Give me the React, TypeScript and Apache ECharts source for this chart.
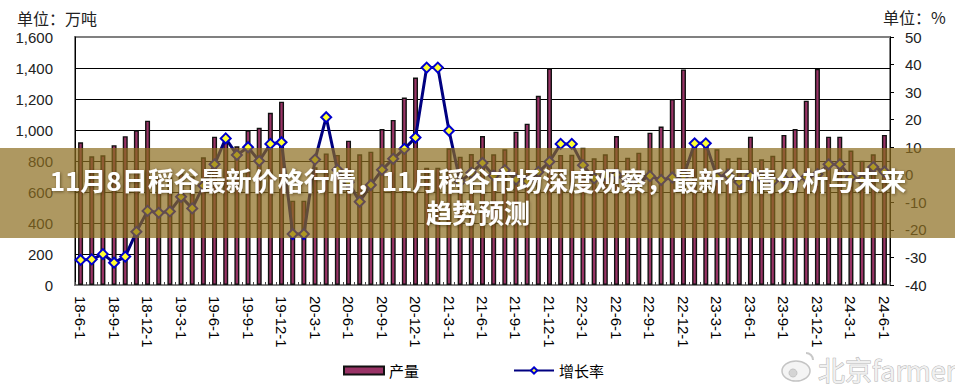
import React, { useEffect, useRef } from "react";
import * as echarts from "echarts";

// Monthly categories 2018-06 .. 2024-06
const categories: string[] = [
  "18-6-1","18-7-1","18-8-1","18-9-1","18-10-1","18-11-1","18-12-1",
  "19-1-1","19-2-1","19-3-1","19-4-1","19-5-1","19-6-1","19-7-1","19-8-1","19-9-1","19-10-1","19-11-1","19-12-1",
  "20-1-1","20-2-1","20-3-1","20-4-1","20-5-1","20-6-1","20-7-1","20-8-1","20-9-1","20-10-1","20-11-1","20-12-1",
  "21-1-1","21-2-1","21-3-1","21-4-1","21-5-1","21-6-1","21-7-1","21-8-1","21-9-1","21-10-1","21-11-1","21-12-1",
  "22-1-1","22-2-1","22-3-1","22-4-1","22-5-1","22-6-1","22-7-1","22-8-1","22-9-1","22-10-1","22-11-1","22-12-1",
  "23-1-1","23-2-1","23-3-1","23-4-1","23-5-1","23-6-1","23-7-1","23-8-1","23-9-1","23-10-1","23-11-1","23-12-1",
  "24-1-1","24-2-1","24-3-1","24-4-1","24-5-1","24-6-1",
];

// 产量 (万吨)
const output: number[] = [
  921, 830, 837, 902, 960, 997, 1060,
  693, 693, 720, 702, 824, 957, 935, 895, 997, 1014, 1111, 1183,
  544, 544, 760, 849, 839, 931, 843, 860, 1006, 1065, 1209, 1338,
  756, 756, 882, 828, 845, 961, 843, 875, 989, 1041, 1221, 1398,
  839, 840, 885, 817, 843, 961, 821, 854, 983, 1022, 1200, 1391,
  928, 928, 875, 817, 821, 957, 811, 834, 968, 1006, 1189, 1394,
  957, 957, 867, 802, 843, 968,
];

// 增长率 (%)
const growth: number[] = [
  -30.9, -30.7, -28.8, -31.9, -29.7, -20.7, -13.1,
  -13.8, -13.3, -8.0, -12.2, -4.0, 3.8, 13.2, 7.2, 10.0, 5.0, 11.2, 11.8,
  -21.5, -21.5, 5.5, 20.9, 1.8, -2.7, -9.8, -3.7, 1.8, 5.8, 9.4, 13.5,
  38.9, 38.9, 16.0, -2.5, 0.7, 4.3, -0.3, 1.7, -1.7, -2.3, 1.0, 4.7,
  11.2, 11.2, 3.5, -1.3, -0.2, 0.0, -2.6, -2.4, -0.5, -1.9, -1.0, -0.5,
  11.4, 11.4, -0.8, 0.0, -2.6, -0.4, -1.2, -2.3, -1.5, -1.6, -0.9, 0.2,
  3.8, 3.8, -0.9, -1.8, 2.8, 1.1,
];

const leftUnit = "单位：万吨";
const rightUnit = "单位：%";
const seriesNames = ["产量", "增长率"];
const headline = "11月8日稻谷最新价格行情，11月稻谷市场深度观察，最新行情分析与未来\n趋势预测";
const watermark = "北京farmer";

const LATIN = "'Liberation Sans', Arial, sans-serif";
const CJK = "'Noto Sans CJK SC', 'Liberation Sans', sans-serif";

export default function App() {
  const ref = useRef<HTMLDivElement>(null);

  useEffect(() => {
    if (!ref.current) return;
    const chart = echarts.init(ref.current, null, { renderer: "svg" });
    const option: any = {
      animation: false,
      backgroundColor: "#ffffff",
      grid: {
        left: 75,
        right: 65,
        top: 37,
        bottom: 104,
        show: true,
        borderColor: "#808080",
        borderWidth: 2,
        backgroundColor: "transparent",
      },
      legend: {
        left: 343,
        top: 363,
        padding: 0,
        itemWidth: 40,
        itemHeight: 8,
        itemGap: 94,
        textStyle: { fontFamily: CJK, fontSize: 15, color: "#000" },
        data: [
          { name: seriesNames[0], icon: "rect" },
          { name: seriesNames[1] },
        ],
      },
      xAxis: {
        type: "category",
        data: categories,
        boundaryGap: true,
        axisLine: { show: true, lineStyle: { color: "#808080", width: 1 } },
        axisTick: {
          show: true,
          inside: true,
          length: 3,
          interval: 0,
          lineStyle: { color: "#444" },
        },
        axisLabel: {
          interval: 2,
          rotate: -90,
          margin: 11,
          color: "#000",
          fontFamily: LATIN,
          fontSize: 15,
        },
        splitLine: { show: false },
      },
      yAxis: [
        {
          type: "value",
          min: 0,
          max: 1600,
          interval: 200,
          axisLine: { show: true, lineStyle: { color: "#000", width: 1 } },
          axisTick: { show: false },
          axisLabel: {
            margin: 22,
            color: "#222",
            fontFamily: LATIN,
            fontSize: 15,
            formatter: (v: number) => v.toLocaleString("en-US"),
          },
          splitLine: {
            show: true,
            lineStyle: {
              color: ["#808080", "#000", "#000", "#000", "#000", "#000", "#000", "#000", "#808080"],
              width: 1.2,
            },
          },
        },
        {
          type: "value",
          min: -40,
          max: 50,
          interval: 10,
          position: "right",
          axisLine: { show: true, lineStyle: { color: "#000", width: 1 } },
          axisTick: { show: true, length: 4, lineStyle: { color: "#000" } },
          axisLabel: {
            margin: 15,
            color: "#222",
            fontFamily: LATIN,
            fontSize: 15,
          },
          splitLine: { show: false },
        },
      ],
      series: [
        {
          name: seriesNames[0],
          type: "bar",
          yAxisIndex: 0,
          data: output,
          barWidth: 5,
          itemStyle: { color: "#993366", borderColor: "#111", borderWidth: 1.4 },
          z: 2,
        },
        {
          name: seriesNames[1],
          type: "line",
          yAxisIndex: 1,
          data: growth,
          symbol: "diamond",
          symbolSize: 10,
          showAllSymbol: true,
          lineStyle: { color: "#000080", width: 3 },
          itemStyle: { color: "#ffff33", borderColor: "#0000cc", borderWidth: 2 },
          z: 3,
        },
      ],
      graphic: [
        {
          type: "text",
          x: 17,
          y: 18,
          style: {
            text: leftUnit,
            fill: "#222",
            fontFamily: CJK,
            fontSize: 16,
            verticalAlign: "middle",
          },
        },
        {
          type: "text",
          x: 883,
          y: 17,
          style: {
            text: rightUnit,
            fill: "#222",
            fontFamily: CJK,
            fontSize: 16,
            verticalAlign: "middle",
          },
        },
        {
          type: "rect",
          z: 100,
          shape: { x: 0, y: 148, width: 955, height: 90 },
          style: { fill: "rgba(140,108,30,0.7)" },
        },
        {
          type: "text",
          z: 101,
          x: 478,
          y: 195,
          style: {
            text: headline,
            fill: "#ffffff",
            fontFamily: CJK,
            fontSize: 26,
            fontWeight: "bold",
            lineHeight: 32,
            align: "center",
            verticalAlign: "middle",
            textShadowColor: "rgba(50,30,0,0.55)",
            textShadowBlur: 3,
            textShadowOffsetX: 1,
            textShadowOffsetY: 1,
          },
        },
        {
          type: "group",
          z: 102,
          children: [
            {
              type: "ellipse",
              shape: { cx: 796, cy: 371, rx: 14, ry: 10 },
              style: { fill: "#f4f4f4", stroke: "#c4c4c4", lineWidth: 1.5 },
            },
            {
              type: "circle",
              shape: { cx: 793, cy: 373, r: 4 },
              style: { fill: "#d4d4d4", stroke: "#c4c4c4", lineWidth: 1 },
            },
            {
              type: "arc",
              shape: { cx: 806, cy: 360, r: 7, startAngle: -Math.PI / 2, endAngle: 0 },
              style: { stroke: "#c8c8c8", lineWidth: 2, fill: "none" },
            },
            {
              type: "text",
              x: 818,
              y: 369,
              style: {
                text: watermark,
                fill: "#f0f0f0",
                stroke: "#b4b4b4",
                lineWidth: 1,
                fontFamily: CJK,
                fontSize: 27,
                verticalAlign: "middle",
              },
            },
          ],
        },
      ],
    };
    chart.setOption(option);
    return () => chart.dispose();
  }, []);

  return (
    <div
      ref={ref}
      style={{ position: "fixed", left: 0, top: 0, width: 955, height: 389, background: "#fff" }}
    />
  );
}
